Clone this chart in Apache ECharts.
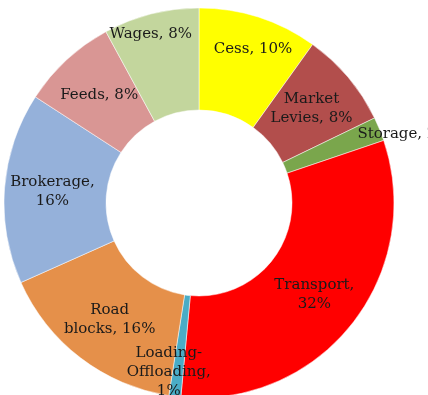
<!DOCTYPE html>
<html>
<head>
<meta charset="utf-8">
<style>
  html, body { margin: 0; padding: 0; background: #fff; }
  #chart { width: 428px; height: 395px; }
</style>
<script src="https://cdn.jsdelivr.net/npm/echarts@6/dist/echarts.min.js"></script>
</head>
<body>
<div id="chart"></div>
<script>
// Cost components (share of total, %)
const categories = ['Cess', 'Market Levies', 'Storage', 'Transport', 'Loading-Offloading', 'Road blocks', 'Brokerage', 'Feeds', 'Wages'];
const shares = [10, 8, 2, 32, 1, 16, 16, 8, 8];

// How each label wraps onto lines
const labelText = {
  'Cess': n => 'Cess, ' + n + '%',
  'Market Levies': n => 'Market\nLevies, ' + n + '%',
  'Storage': n => 'Storage, ' + n + '%',
  'Transport': n => 'Transport,\n' + n + '%',
  'Loading-Offloading': n => 'Loading-\nOffloading,\n' + n + '%',
  'Road blocks': n => 'Road\nblocks, ' + n + '%',
  'Brokerage': n => 'Brokerage,\n' + n + '%',
  'Feeds': n => 'Feeds, ' + n + '%',
  'Wages': n => 'Wages, ' + n + '%'
};

const sliceColors = {
  'Cess': '#FFFF00',
  'Market Levies': '#B24E4C',
  'Storage': '#7AA64C',
  'Transport': '#FF0000',
  'Loading-Offloading': '#4AACC6',
  'Road blocks': '#E5904A',
  'Brokerage': '#95B1DA',
  'Feeds': '#D99694',
  'Wages': '#C3D69D'
};

// Nudges for labels that sit off the middle of the ring
const labelNudge = {
  'Cess': [9, -14],
  'Storage': [69, -13],
  'Loading-Offloading': [-12, 23],
  'Wages': [-12, -26]
};

const chart = echarts.init(document.getElementById('chart'), null, { renderer: 'canvas' });

chart.setOption({
  animation: false,
  backgroundColor: '#ffffff',
  series: [{
    type: 'pie',
    center: [199, 203],
    radius: [93, 195],
    startAngle: 90,
    clockwise: true,
    avoidLabelOverlap: false,
    itemStyle: { borderColor: '#ffffff', borderWidth: 0.5 },
    label: {
      show: true,
      position: 'inside',
      fontFamily: 'DejaVu Serif',
      fontSize: 15,
      lineHeight: 19,
      color: '#1a1a1a',
      align: 'center',
      formatter: p => labelText[p.name](p.value)
    },
    labelLine: { show: false },
    labelLayout: params => {
      const name = categories[params.dataIndex];
      const d = labelNudge[name];
      return d ? { dx: d[0], dy: d[1] } : {};
    },
    emphasis: { disabled: true },
    data: categories.map((c, i) => ({
      name: c,
      value: shares[i],
      itemStyle: { color: sliceColors[c] }
    }))
  }]
});
</script>
</body>
</html>
